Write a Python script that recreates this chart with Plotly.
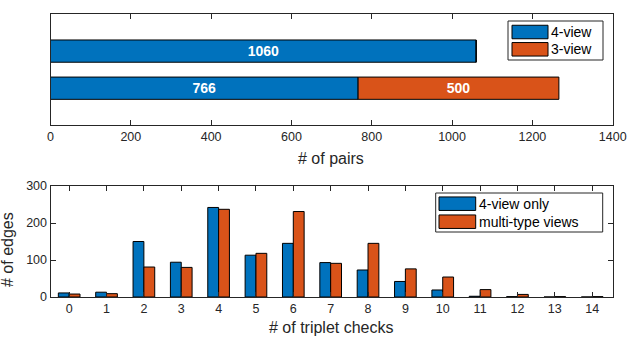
import plotly.graph_objects as go

W, H = 627, 348

# ---------------- data ----------------
pair_cats = ["multi-type views", "4-view only"]      # bottom row, top row
pairs_4view = [766, 1060]
pairs_3view = [500, 0]
pair_ticks = [0, 200, 400, 600, 800, 1000, 1200, 1400]

checks = list(range(15))
edges_4view = [11, 13, 150, 94, 242, 113, 145, 93, 73, 42, 19, 2, 1, 0, 0]
edges_multi = [8, 9, 81, 80, 237, 118, 231, 91, 145, 76, 54, 20, 7, 1, 1]
edge_ticks = [0, 100, 200, 300]

top_legend = ["4-view", "3-view"]
bottom_legend = ["4-view only", "multi-type views"]

# ---------------- style ----------------
BLUE = "#0072BD"
ORANGE = "#D95319"
AX = "#262626"
FONT = "Liberation Sans, Arial, Helvetica, sans-serif"


def px(x):
    return x / W


def py(y):
    return 1 - y / H


fig = go.Figure()

# top: horizontal stacked bars
fig.add_trace(go.Bar(
    y=pair_cats, x=pairs_4view, orientation="h", marker_color=BLUE,
    marker_line=dict(color="black", width=1), width=0.6, offset=-0.3,
    text=[str(v) if v else "" for v in pairs_4view], textposition="inside",
    insidetextanchor="middle", textangle=0,
    textfont=dict(color="white", size=14, family=FONT, weight="bold"),
    xaxis="x", yaxis="y", showlegend=False))
fig.add_trace(go.Bar(
    y=pair_cats, x=pairs_3view, base=pairs_4view, orientation="h",
    marker_color=ORANGE, marker_line=dict(color="black", width=1),
    width=0.6, offset=-0.3,
    text=[str(v) if v else "" for v in pairs_3view], textposition="inside",
    insidetextanchor="middle", textangle=0,
    textfont=dict(color="white", size=14, family=FONT, weight="bold"),
    xaxis="x", yaxis="y", showlegend=False))

# bottom: grouped vertical bars
fig.add_trace(go.Bar(
    x=checks, y=edges_4view, marker_color=BLUE,
    marker_line=dict(color="black", width=1), width=0.29, offset=-0.29,
    xaxis="x2", yaxis="y2", showlegend=False))
fig.add_trace(go.Bar(
    x=checks, y=edges_multi, marker_color=ORANGE,
    marker_line=dict(color="black", width=1), width=0.29, offset=0,
    xaxis="x2", yaxis="y2", showlegend=False))

xdom = [px(50.5), px(612.7)]
common_axis = dict(showline=True, linecolor=AX, linewidth=1, ticks="inside",
                   ticklen=5, tickcolor=AX, tickwidth=1, showgrid=False,
                   zeroline=False, automargin=False,
                   tickfont=dict(size=12.5, color=AX, family=FONT))

fig.update_layout(
    template="none",
    width=W, height=H, margin=dict(l=0, r=0, t=0, b=0, pad=0),
    paper_bgcolor="white", plot_bgcolor="white", barmode="overlay",
    showlegend=False,
    font=dict(family=FONT, color=AX),
    xaxis=dict(domain=xdom, anchor="y", range=[0, 1400], tickvals=pair_ticks,
               mirror="ticks", **common_axis),
    yaxis=dict(domain=[py(125.3), py(14)], anchor="x", type="category",
               categoryorder="array", categoryarray=pair_cats,
               range=[-1, 2], showline=True, linecolor=AX, linewidth=1,
               mirror=True, ticks="", showticklabels=False, showgrid=False,
               zeroline=False, automargin=False),
    xaxis2=dict(domain=xdom, anchor="y2", range=[-0.5, 14.55],
                tickvals=checks, mirror="ticks", **common_axis),
    yaxis2=dict(domain=[py(297), py(186)], anchor="x2", range=[0, 300],
                tickvals=edge_ticks, mirror="ticks", **common_axis),
)

shapes = []
annotations = []

# axis titles
title_font = dict(size=16, color=AX, family=FONT)
annotations.append(dict(text="# of pairs", x=px(331), y=py(158), xref="paper",
                        yref="paper", showarrow=False, xanchor="center",
                        yanchor="middle", font=title_font))
annotations.append(dict(text="# of triplet checks", x=px(331), y=py(327),
                        xref="paper", yref="paper", showarrow=False,
                        xanchor="center", yanchor="middle", font=title_font))
annotations.append(dict(text="# of edges", x=px(8), y=py(250), xref="paper",
                        yref="paper", showarrow=False, textangle=-90,
                        xanchor="center", yanchor="middle", font=title_font))


def legend(names, colors, box, sw_x, sw_w, rows_y, sw_h):
    x0, y0, x1, y1 = box
    shapes.append(dict(type="rect", xref="paper", yref="paper",
                       x0=px(x0), x1=px(x1), y0=py(y1), y1=py(y0),
                       line=dict(color=AX, width=1), fillcolor="white",
                       layer="above"))
    for name, col, yc in zip(names, colors, rows_y):
        shapes.append(dict(type="rect", xref="paper", yref="paper",
                           x0=px(sw_x), x1=px(sw_x + sw_w),
                           y0=py(yc + sw_h / 2), y1=py(yc - sw_h / 2),
                           line=dict(color="black", width=1), fillcolor=col,
                           layer="above"))
        annotations.append(dict(text=name, x=px(sw_x + sw_w + 1), y=py(yc),
                                xref="paper", yref="paper", showarrow=False,
                                xanchor="left", yanchor="middle",
                                font=dict(size=14, color="black", family=FONT)))


legend(top_legend, [BLUE, ORANGE], (508, 21, 603, 60), 512, 36, [32, 49.3], 13.5)
legend(bottom_legend, [BLUE, ORANGE], (435.7, 193, 602.7, 232), 439, 36.7,
       [203.7, 221.7], 13.5)

fig.update_layout(shapes=shapes, annotations=annotations)

fig.write_html("out.html")
